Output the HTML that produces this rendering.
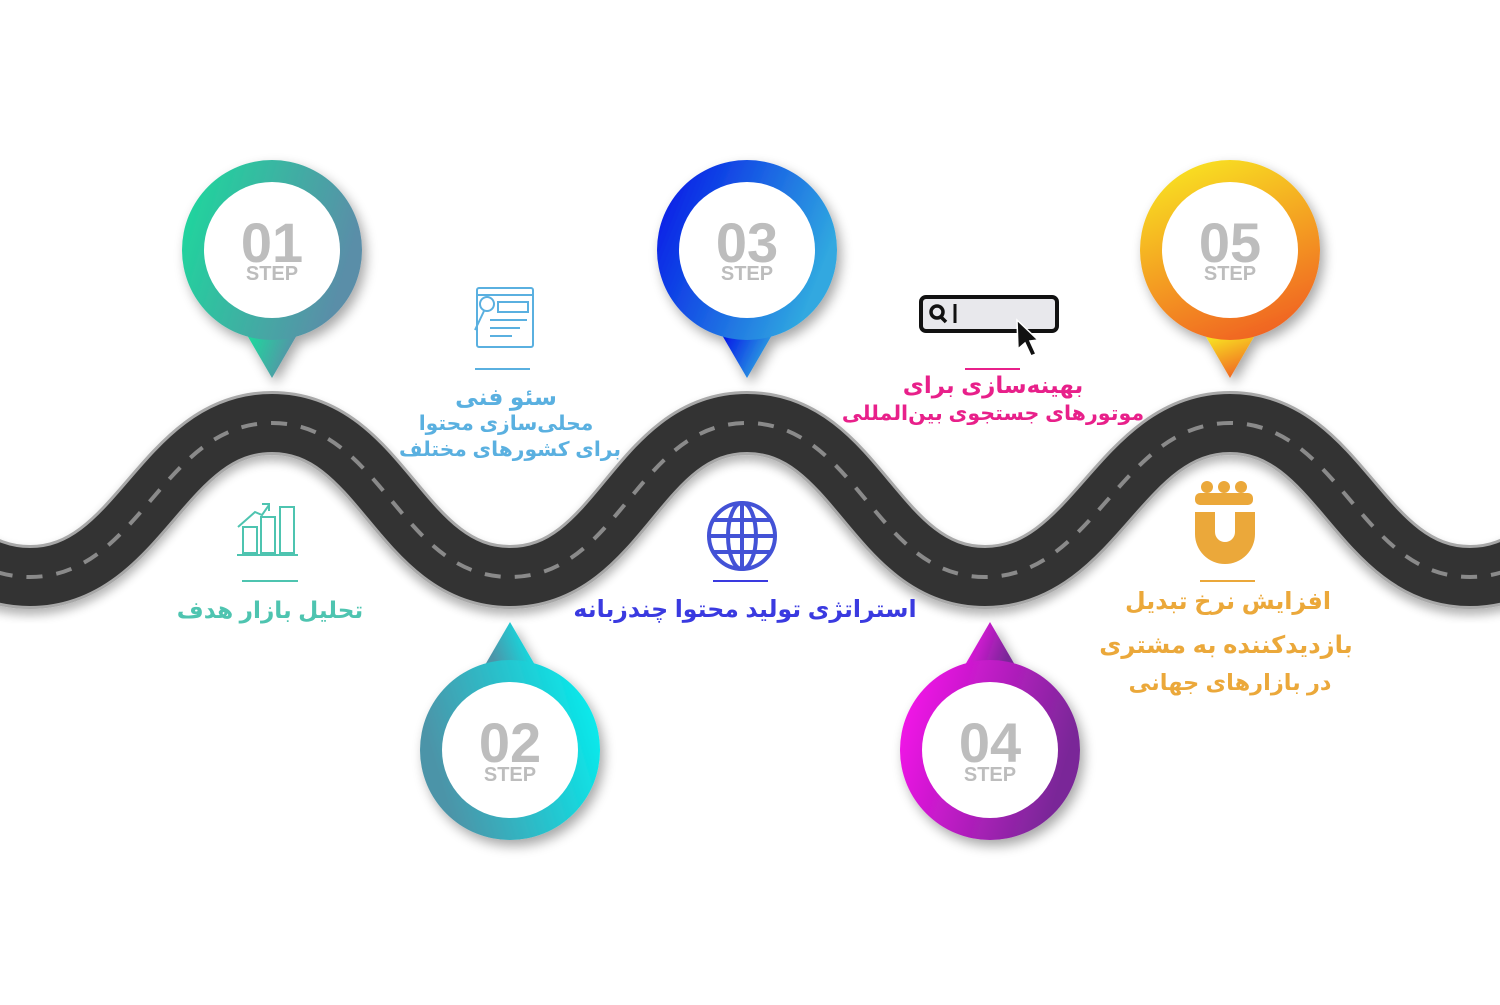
<!DOCTYPE html>
<html><head><meta charset="utf-8">
<style>
html,body{margin:0;padding:0;background:#fff;}
svg text{font-family:"Liberation Sans","DejaVu Sans","Noto Sans CJK SC",sans-serif;font-weight:bold;}
</style></head>
<body>
<svg width="1500" height="1000" viewBox="0 0 1500 1000" xmlns="http://www.w3.org/2000/svg">
<defs>
<filter id="sh" x="-30%" y="-30%" width="160%" height="160%"><feGaussianBlur in="SourceAlpha" stdDeviation="6"/><feOffset dx="4" dy="6"/><feComponentTransfer><feFuncA type="linear" slope="0.35"/></feComponentTransfer><feMerge><feMergeNode/><feMergeNode in="SourceGraphic"/></feMerge></filter>
<filter id="rs" x="-10%" y="-30%" width="120%" height="160%"><feGaussianBlur in="SourceAlpha" stdDeviation="5"/><feOffset dx="0" dy="6"/><feComponentTransfer><feFuncA type="linear" slope="0.3"/></feComponentTransfer><feMerge><feMergeNode/><feMergeNode in="SourceGraphic"/></feMerge></filter>
<linearGradient id="g1" x1="0" y1="0" x2="1" y2="0.3"><stop offset="0" stop-color="#1adc9c"/><stop offset="1" stop-color="#5a8ea8"/></linearGradient>
<linearGradient id="g2" x1="0" y1="0.3" x2="1" y2="0"><stop offset="0" stop-color="#4c94a8"/><stop offset="1" stop-color="#00f4f4"/></linearGradient>
<linearGradient id="g3" x1="0" y1="0" x2="1" y2="0.4"><stop offset="0" stop-color="#0010e8"/><stop offset="1" stop-color="#30a8e0"/></linearGradient>
<linearGradient id="g4" x1="0" y1="0" x2="1" y2="0.3"><stop offset="0" stop-color="#ff10f0"/><stop offset="1" stop-color="#7a2898"/></linearGradient>
<linearGradient id="g5" x1="0.3" y1="0" x2="0.7" y2="1"><stop offset="0" stop-color="#f8e020"/><stop offset="1" stop-color="#f06020"/></linearGradient>
<path id="road" fill="none" d="M-220,423 C-110,423 -80,577 30,577 C140,577 162,423 272,423 C382,423 400,577 510,577 C620,577 637,423 747,423 C857,423 875,577 985,577 C1095,577 1120,423 1230,423 C1340,423 1360,577 1470,577 C1580,577 1600,423 1720,423"/>
</defs>

<g filter="url(#rs)"><use href="#road" stroke="#a8a8a8" stroke-width="64"/></g>
<use href="#road" stroke="#333" stroke-width="58"/>
<use href="#road" stroke="#8a8a8a" stroke-width="4" stroke-dasharray="16 14"/>

<g filter="url(#sh)">
<polygon points="247,335 297,335 272,378" fill="url(#g1)"/><circle cx="272" cy="250" r="90" fill="url(#g1)"/>
<polygon points="722,335 772,335 747,378" fill="url(#g3)"/><circle cx="747" cy="250" r="90" fill="url(#g3)"/>
<polygon points="1205,335 1255,335 1230,378" fill="url(#g5)"/><circle cx="1230" cy="250" r="90" fill="url(#g5)"/>
<polygon points="485,665 535,665 510,622" fill="url(#g2)"/><circle cx="510" cy="750" r="90" fill="url(#g2)"/>
<polygon points="965,665 1015,665 990,622" fill="url(#g4)"/><circle cx="990" cy="750" r="90" fill="url(#g4)"/>
</g>
<g fill="#fff"><circle cx="272" cy="250" r="68"/><circle cx="747" cy="250" r="68"/><circle cx="1230" cy="250" r="68"/><circle cx="510" cy="750" r="68"/><circle cx="990" cy="750" r="68"/></g>
<g fill="#bdbdbd" text-anchor="middle">
<text x="272" y="262" font-size="56">01</text><text x="272" y="280" font-size="20">STEP</text>
<text x="747" y="262" font-size="56">03</text><text x="747" y="280" font-size="20">STEP</text>
<text x="1230" y="262" font-size="56">05</text><text x="1230" y="280" font-size="20">STEP</text>
<text x="510" y="762" font-size="56">02</text><text x="510" y="781" font-size="20">STEP</text>
<text x="990" y="762" font-size="56">04</text><text x="990" y="781" font-size="20">STEP</text>
</g>

<g stroke="#4ec4b0" stroke-width="2" fill="none">
<rect x="243" y="527" width="14" height="26"/><rect x="261" y="517" width="14" height="36"/><rect x="280" y="507" width="14" height="46"/>
<line x1="237" y1="555" x2="298" y2="555"/><polyline points="238,527 255,512 262,515 269,505"/><polyline points="262,504 269,504 269,511"/>
<line x1="242" y1="581" x2="298" y2="581"/>
</g>
<text x="270" y="618" font-size="23.2" fill="#4ec4b0" text-anchor="middle" direction="rtl">تحلیل بازار هدف</text>

<g stroke="#5ab0e0" stroke-width="2" fill="none">
<rect x="477" y="288" width="56" height="59" rx="2"/><line x1="477" y1="295" x2="533" y2="295"/>
<rect x="498" y="302" width="30" height="10"/><circle cx="487" cy="304" r="7"/><line x1="484" y1="311" x2="475" y2="330"/>
<line x1="490" y1="320" x2="527" y2="320"/><line x1="490" y1="328" x2="520" y2="328"/><line x1="490" y1="336" x2="512" y2="336"/>
<line x1="475" y1="369" x2="530" y2="369"/>
</g>
<g fill="#5ab0e0" text-anchor="middle" direction="rtl">
<text x="506" y="405" font-size="23.3">سئو فنی</text>
<text x="506" y="430" font-size="20.3">محلی‌سازی محتوا</text>
<text x="510" y="456" font-size="20.3">برای کشورهای مختلف</text>
</g>

<g stroke="#4352d6" stroke-width="4" fill="none">
<circle cx="742" cy="536" r="33"/><ellipse cx="742" cy="536" rx="14" ry="33"/><line x1="742" y1="503" x2="742" y2="569"/>
<line x1="709" y1="536" x2="775" y2="536"/><line x1="714" y1="520" x2="770" y2="520"/><line x1="714" y1="552" x2="770" y2="552"/>
</g>
<line x1="713" y1="581" x2="768" y2="581" stroke="#3a3ae0" stroke-width="2"/>
<text x="745" y="617" font-size="23.6" fill="#3a3ae0" text-anchor="middle" direction="rtl">استراتژی تولید محتوا چندزبانه</text>

<rect x="921" y="297" width="136" height="34" rx="5" fill="#e8e8ec" stroke="#111" stroke-width="4"/>
<circle cx="937" cy="312" r="6" fill="none" stroke="#111" stroke-width="3.5"/><line x1="941" y1="317" x2="946" y2="322" stroke="#111" stroke-width="3.5"/>
<line x1="955" y1="304" x2="955" y2="323" stroke="#111" stroke-width="3"/>
<polygon points="1017,320 1038,340 1030,341 1036,354 1031,356 1025,343 1018,349" fill="#111" stroke="#fff" stroke-width="1.5"/>
<line x1="965" y1="369" x2="1020" y2="369" stroke="#e8208a" stroke-width="2"/>
<g fill="#e8208a" text-anchor="middle" direction="rtl">
<text x="993" y="393" font-size="23">بهینه‌سازی برای</text>
<text x="993" y="420" font-size="20.6">موتورهای جستجوی بین‌المللی</text>
</g>

<g fill="#eba83a">
<circle cx="1207" cy="487" r="6"/><circle cx="1224" cy="487" r="6"/><circle cx="1241" cy="487" r="6"/>
<rect x="1195" y="493" width="58" height="12" rx="5"/>
<path d="M1195,512 h20 v20 a10,10 0 0 0 20,0 v-20 h20 v22 a30,30 0 0 1 -60,0 z"/>
</g>
<line x1="1200" y1="581" x2="1255" y2="581" stroke="#eba83a" stroke-width="2"/>
<g fill="#eba83a" text-anchor="middle" direction="rtl">
<text x="1228" y="609" font-size="23.8">افزایش نرخ تبدیل</text>
<text x="1226" y="653" font-size="24.2">بازدیدکننده به مشتری</text>
<text x="1230" y="690" font-size="22.5">در بازارهای جهانی</text>
</g>
</svg>
</body></html>
